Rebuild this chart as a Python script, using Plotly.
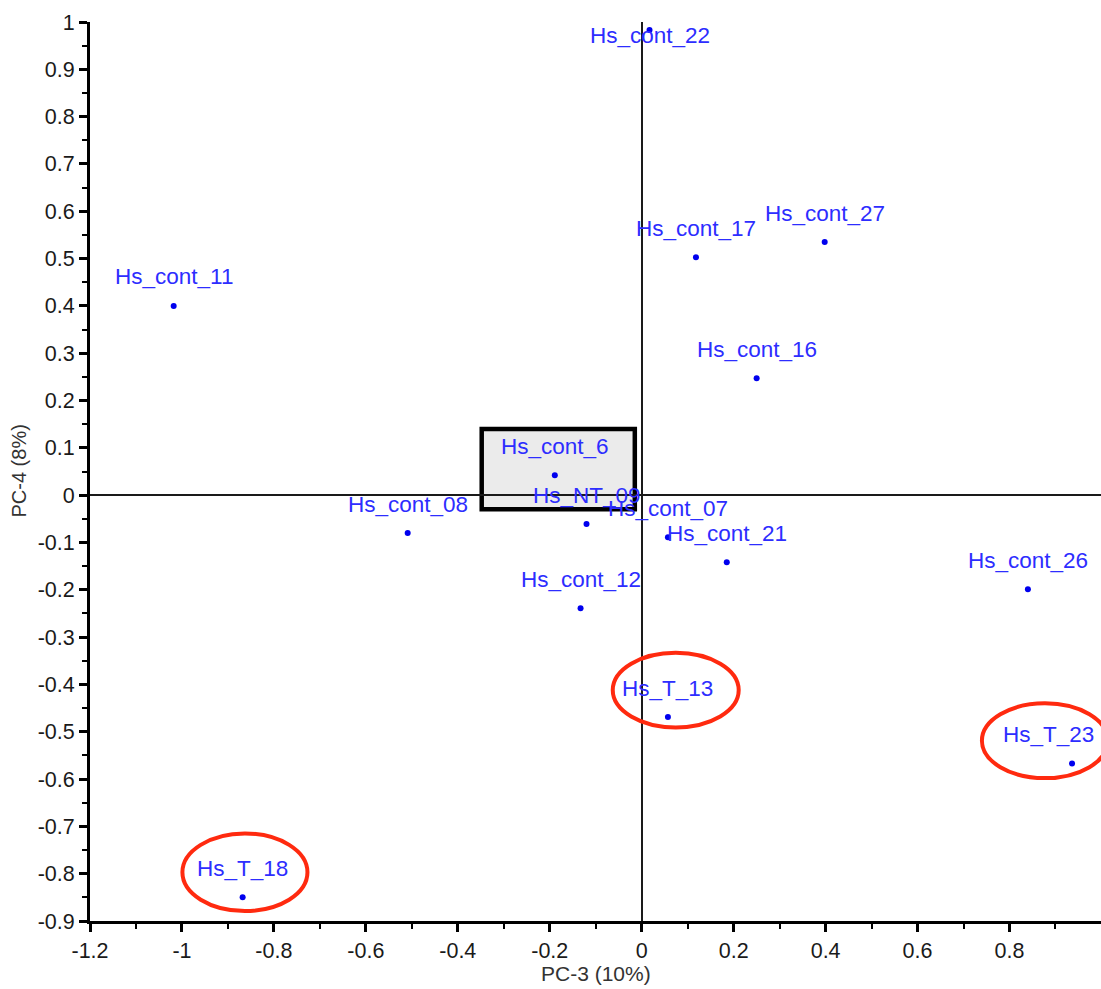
import plotly.graph_objects as go

# ---- data ----
names = ["Hs_cont_22", "Hs_cont_17", "Hs_cont_27", "Hs_cont_11", "Hs_cont_16",
         "Hs_cont_6", "Hs_NT_09", "Hs_cont_07", "Hs_cont_21", "Hs_cont_08",
         "Hs_cont_12", "Hs_cont_26", "Hs_T_13", "Hs_T_23", "Hs_T_18"]
pc3 = [0.017, 0.118, 0.398, -1.018, 0.250,
       -0.189, -0.120, 0.057, 0.185, -0.509,
       -0.133, 0.840, 0.057, 0.936, -0.868]
pc4 = [0.983, 0.503, 0.535, 0.400, 0.247,
       0.042, -0.061, -0.089, -0.142, -0.080,
       -0.239, -0.199, -0.469, -0.567, -0.850]

highlighted = ["Hs_T_13", "Hs_T_23", "Hs_T_18"]
x_tick_vals = [-1.2, -1.0, -0.8, -0.6, -0.4, -0.2, 0.0, 0.2, 0.4, 0.6, 0.8]
x_tick_text = ["-1.2", "-1", "-0.8", "-0.6", "-0.4", "-0.2", "0", "0.2", "0.4", "0.6", "0.8"]
y_tick_vals = [1.0, 0.9, 0.8, 0.7, 0.6, 0.5, 0.4, 0.3, 0.2, 0.1, 0.0,
               -0.1, -0.2, -0.3, -0.4, -0.5, -0.6, -0.7, -0.8, -0.9]
y_tick_text = ["1", "0.9", "0.8", "0.7", "0.6", "0.5", "0.4", "0.3", "0.2", "0.1", "0",
               "-0.1", "-0.2", "-0.3", "-0.4", "-0.5", "-0.6", "-0.7", "-0.8", "-0.9"]
x_title = "PC-3 (10%)"
y_title = "PC-4 (8%)"

# ---- styling ----
FONT = "Arial, Liberation Sans, Helvetica, sans-serif"
LABEL_COLOR = "#2d2dff"
DOT_COLOR = "#0000ee"
# label placement exceptions (pixels): default is centred ~29px above the dot
label_shift = {"Hs_cont_22": (0, -5), "Hs_T_23": (-24, 29)}

fig = go.Figure()

# highlight box (drawn beneath grid/zero lines)
fig.add_shape(type="rect", xref="x", yref="y", x0=-0.348, x1=-0.015, y0=-0.030, y1=0.140,
              fillcolor="#ebebeb", line=dict(color="black", width=4.5), layer="below")

fig.add_trace(go.Scatter(
    x=pc3, y=pc4, mode="markers",
    marker=dict(color=DOT_COLOR, size=6),
    showlegend=False, hoverinfo="text", text=names,
))

for n, xv, yv in zip(names, pc3, pc4):
    dx, dy = label_shift.get(n, (0, 29))
    fig.add_annotation(x=xv, y=yv, xref="x", yref="y", text=n, showarrow=False,
                       xshift=dx, yshift=dy, font=dict(family=FONT, size=22.5, color=LABEL_COLOR))

# red ellipses around highlighted samples (sized from the points)
ell_size = {"Hs_T_13": (0.274, 0.158), "Hs_T_23": (0.274, 0.158), "Hs_T_18": (0.272, 0.164)}
ell_center_shift = {"Hs_T_13": (0.017, 0.057), "Hs_T_23": (-0.059, 0.048), "Hs_T_18": (5e-3, 0.053)}
for n, xv, yv in zip(names, pc3, pc4):
    if n in highlighted:
        w, h = ell_size[n]
        cx = xv + ell_center_shift[n][0]
        cy = yv + ell_center_shift[n][1]
        fig.add_shape(type="circle", xref="x", yref="y",
                      x0=cx - w / 2, x1=cx + w / 2, y0=cy - h / 2, y1=cy + h / 2,
                      line=dict(color="#ff2a0f", width=4), layer="above")

axis_common = dict(
    showgrid=False, showline=True, linecolor="black", linewidth=3,
    ticks="outside", ticklen=8, tickwidth=3, tickcolor="black",
    zeroline=True, zerolinecolor="#1a1a1a", zerolinewidth=2,
    tickfont=dict(family=FONT, size=21.5, color="#1a1a1a"),
    mirror=False, automargin=False,
)
fig.update_xaxes(range=[-1.2, 0.999], tickmode="array", tickvals=x_tick_vals, ticktext=x_tick_text,
                 minor=dict(ticks="outside", ticklen=5, tickwidth=2, tickcolor="black", dtick=0.1,
                            tick0=-1.2, showgrid=False),
                 **axis_common)
fig.update_yaxes(range=[-0.9, 1.0], tickmode="array", tickvals=y_tick_vals, ticktext=y_tick_text,
                 minor=dict(ticks="outside", ticklen=5, tickwidth=2, tickcolor="black", dtick=0.05,
                            tick0=-0.9, showgrid=False),
                 **axis_common)

fig.add_annotation(text=x_title, xref="paper", yref="paper", x=0.5, y=-0.058,
                   xanchor="center", yanchor="middle", showarrow=False,
                   font=dict(family=FONT, size=21, color="#333333"))
fig.add_annotation(text=y_title, xref="paper", yref="paper", x=-0.0712, y=0.5,
                   xanchor="center", yanchor="middle", showarrow=False, textangle=-90,
                   font=dict(family=FONT, size=20, color="#333333"))

fig.update_layout(
    width=1101, height=989,
    margin=dict(l=90, r=0, t=22, b=68),
    plot_bgcolor="white", paper_bgcolor="white",
    showlegend=False,
)

fig.write_html("out.html", config={"displayModeBar": False},
               post_script="document.body.style.margin='0';")
